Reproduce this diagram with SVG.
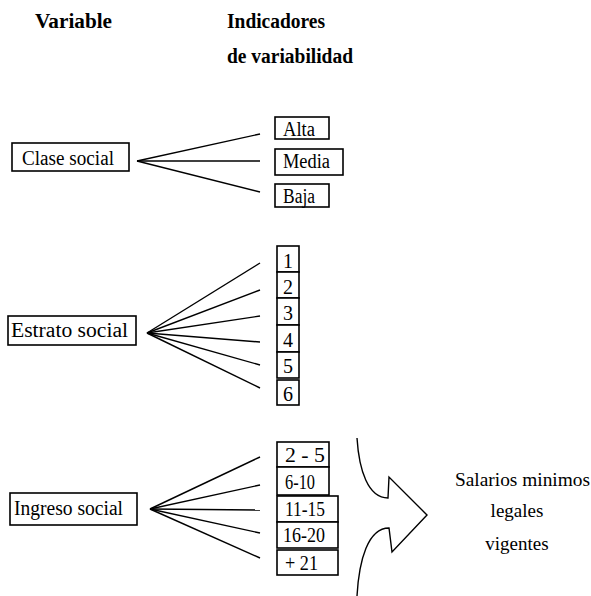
<svg xmlns="http://www.w3.org/2000/svg" width="591" height="596" viewBox="0 0 591 596">
<style>
.bx{fill:#fff;stroke:#000;stroke-width:1.6}
.t{font-family:"Liberation Serif",serif;font-size:20px;fill:#000}
.s{font-family:"Liberation Serif",serif;font-size:19px;fill:#000}
.h{font-family:"Liberation Serif",serif;font-size:20px;font-weight:bold;fill:#000}
.c line{stroke:#000;stroke-width:1.4}
</style>
<rect width="591" height="596" fill="#fff"/>
<g id="headers">
<text class="h" x="35" y="28" textLength="77" lengthAdjust="spacingAndGlyphs">Variable</text>
<text class="h" x="227" y="28" textLength="98" lengthAdjust="spacingAndGlyphs">Indicadores</text>
<text class="h" x="227" y="63" textLength="126" lengthAdjust="spacingAndGlyphs">de variabilidad</text>
</g>
<g id="connectors" class="c">
<line x1="137" y1="161" x2="260" y2="134"/>
<line x1="137" y1="161" x2="260" y2="161"/>
<line x1="137" y1="161" x2="260" y2="192"/>
<line x1="147" y1="333" x2="260" y2="263"/>
<line x1="147" y1="333" x2="260" y2="290"/>
<line x1="147" y1="333" x2="260" y2="316"/>
<line x1="147" y1="333" x2="260" y2="342"/>
<line x1="147" y1="333" x2="260" y2="365"/>
<line x1="147" y1="333" x2="260" y2="388"/>
<line x1="150" y1="509" x2="260" y2="457"/>
<line x1="150" y1="509" x2="260" y2="485"/>
<line x1="150" y1="509" x2="260" y2="510"/>
<line x1="150" y1="509" x2="260" y2="533"/>
<line x1="150" y1="509" x2="260" y2="558"/>
</g>
<g id="clase-social"><rect class="bx" x="12" y="143" width="117" height="28"/><text class="t" x="22" y="165" textLength="92" lengthAdjust="spacingAndGlyphs">Clase  social</text></g>
<g id="alta"><rect class="bx" x="275" y="117" width="54" height="22"/><text class="t" x="283" y="136" textLength="32" lengthAdjust="spacingAndGlyphs">Alta</text></g>
<g id="media"><rect class="bx" x="275" y="149" width="68" height="26"/><text class="t" x="283" y="168" textLength="47" lengthAdjust="spacingAndGlyphs">Media</text></g>
<g id="baja"><rect class="bx" x="275" y="184" width="54" height="23"/><text class="t" x="283" y="203" textLength="32" lengthAdjust="spacingAndGlyphs">Baja</text></g>
<g id="estrato-social"><rect class="bx" x="8" y="316" width="128" height="29"/><text class="t" x="11" y="337" textLength="117" lengthAdjust="spacingAndGlyphs">Estrato  social</text></g>
<g id="e1"><rect class="bx" x="277" y="246" width="22" height="26"/><text class="t" x="288" y="268" text-anchor="middle">1</text></g>
<g id="e2"><rect class="bx" x="277" y="272" width="22" height="26"/><text class="t" x="288" y="294" text-anchor="middle">2</text></g>
<g id="e3"><rect class="bx" x="277" y="298" width="22" height="27"/><text class="t" x="288" y="320" text-anchor="middle">3</text></g>
<g id="e4"><rect class="bx" x="277" y="325" width="22" height="27"/><text class="t" x="288" y="347" text-anchor="middle">4</text></g>
<g id="e5"><rect class="bx" x="277" y="352" width="22" height="26"/><text class="t" x="288" y="373" text-anchor="middle">5</text></g>
<g id="e6"><rect class="bx" x="277" y="380" width="22" height="25"/><text class="t" x="288" y="401" text-anchor="middle">6</text></g>
<g id="ingreso-social"><rect class="bx" x="10" y="493" width="127" height="32"/><text class="t" x="14" y="515" textLength="109" lengthAdjust="spacingAndGlyphs">Ingreso  social</text></g>
<g id="i1"><rect class="bx" x="277" y="442" width="52" height="25"/><text class="t" x="285" y="462" textLength="40" lengthAdjust="spacingAndGlyphs">2 - 5</text></g>
<g id="i2"><rect class="bx" x="277" y="467" width="52" height="28"/><text class="t" x="285" y="489" textLength="30" lengthAdjust="spacingAndGlyphs">6-10</text></g>
<g id="i3"><rect class="bx" x="277" y="496" width="61" height="26"/><text class="t" x="285" y="516" textLength="40" lengthAdjust="spacingAndGlyphs">11-15</text></g>
<g id="i4"><rect class="bx" x="277" y="522" width="61" height="26"/><text class="t" x="283" y="542" textLength="42" lengthAdjust="spacingAndGlyphs">16-20</text></g>
<g id="i5"><rect class="bx" x="277" y="550" width="61" height="25"/><text class="t" x="285" y="570" textLength="33" lengthAdjust="spacingAndGlyphs">+ 21</text></g>
<g id="arrow"><path d="M357,438 C359,470 368,498 388,498 L389,477 L427,515 L392,552 L389,528 C368,528 359,560 357,596" fill="none" stroke="#000" stroke-width="1.4"/></g>
<g id="salarios">
<text class="s" x="455" y="486" textLength="135" lengthAdjust="spacingAndGlyphs">Salarios  minimos</text>
<text class="s" x="517" y="517" text-anchor="middle">legales</text>
<text class="s" x="517" y="550" text-anchor="middle">vigentes</text>
</g>
</svg>
